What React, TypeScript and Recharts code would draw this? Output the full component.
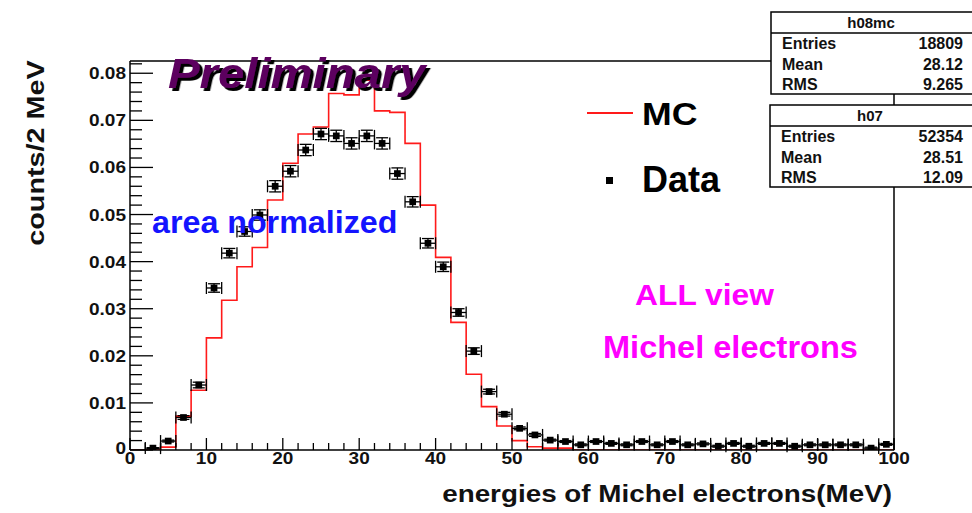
import {
  ComposedChart,
  ErrorBar,
  Line,
  Scatter,
  XAxis,
  YAxis,
  ZAxis,
} from 'recharts';

// data points: bin centres (MeV), normalized counts, y errors
const dataCenters = [
  3, 5, 7, 9, 11, 13, 15, 17, 19, 21, 23, 25, 27, 29, 31, 33, 35, 37, 39, 41,
  43, 45, 47, 49, 51, 53, 55, 57, 59, 61, 63, 65, 67, 69, 71, 73, 75, 77, 79,
  81, 83, 85, 87, 89, 91, 93, 95, 97, 99,
];
const dataValues = [
  0.0004, 0.0019, 0.0069, 0.0138, 0.0344, 0.0418, 0.0464, 0.0499, 0.056,
  0.0592, 0.0637, 0.0671, 0.0667, 0.0651, 0.0667, 0.0651, 0.0587, 0.0527,
  0.0439, 0.0389, 0.0292, 0.021, 0.0124, 0.0076, 0.0046, 0.0032, 0.0021,
  0.0018, 0.0011, 0.0018, 0.0014, 0.0011, 0.0018, 0.0011, 0.0018, 0.0011,
  0.0013, 0.0008, 0.0014, 0.0008, 0.0014, 0.0014, 0.0008, 0.0011, 0.0011,
  0.0011, 0.0011, 0.0004, 0.0012,
];
const dataErrors = [
  0.0001, 0.0002, 0.0004, 0.0006, 0.0009, 0.001, 0.001, 0.0011, 0.0012,
  0.0012, 0.0012, 0.0012, 0.0012, 0.0012, 0.0012, 0.0012, 0.0012, 0.0011,
  0.001, 0.001, 0.0008, 0.0007, 0.0005, 0.0004, 0.0003, 0.0003, 0.0002,
  0.0002, 0.0002, 0.0002, 0.0002, 0.0002, 0.0002, 0.0002, 0.0002, 0.0002,
  0.0002, 0.0002, 0.0002, 0.0002, 0.0002, 0.0002, 0.0002, 0.0002, 0.0002,
  0.0002, 0.0002, 0.0002, 0.0002,
];

// MC histogram: lower bin edges and contents (2 MeV bins)
const mcEdges = [
  0, 2, 4, 6, 8, 10, 12, 14, 16, 18, 20, 22, 24, 26, 28, 30, 32, 34, 36, 38,
  40, 42, 44, 46, 48, 50, 52, 54, 56, 58, 60, 62, 64, 66, 68, 70, 72, 74, 76,
  78, 80, 82, 84, 86, 88, 90, 92, 94, 96, 98, 100,
];
const mcValues = [
  0, 0, 0.0006, 0.0072, 0.0127, 0.0238, 0.0318, 0.0389, 0.043, 0.0531,
  0.0609, 0.0671, 0.0686, 0.0757, 0.0754, 0.0785, 0.072, 0.0717, 0.0651,
  0.052, 0.0409, 0.0271, 0.0161, 0.0092, 0.0051, 0.002, 0.0007, 0.0004,
  0.0004, 0, 0, 0, 0, 0, 0, 0, 0, 0, 0, 0, 0, 0, 0, 0, 0, 0, 0, 0, 0, 0, 0,
];

const xMajorTicks = [0, 10, 20, 30, 40, 50, 60, 70, 80, 90, 100];
const xTickLabels = ['0', '10', '20', '30', '40', '50', '60', '70', '80', '90', '100'];
const yTickLabels = ['0', '0.01', '0.02', '0.03', '0.04', '0.05', '0.06', '0.07', '0.08'];

const xTicks = Array.from({ length: 51 }, (_, i) => i * 2);
const yTicks = Array.from({ length: 42 }, (_, i) => i / 500);

const points = dataCenters.map((x, i) => ({
  x,
  y: dataValues[i],
  xerr: 1,
  yerr: dataErrors[i],
}));
const mcSteps = mcEdges.map((x, i) => ({ x, mc: mcValues[i] }));

const FONT = '"Liberation Sans", Arial, Helvetica, sans-serif';

function XTick(props: any) {
  const { x, y, payload } = props;
  const v = payload.value;
  const k = xMajorTicks.indexOf(v);
  const major = k >= 0;
  return (
    <g>
      <line x1={x} x2={x} y1={y} y2={y - (major ? 12 : 7)} stroke="#000" strokeWidth={1.3} />
      {major && (
        <text
          transform={`translate(${x},${y + 14}) scale(1.12,1)`}
          textAnchor="middle"
          fontFamily={FONT}
          fontWeight="bold"
          fontSize={17}
          fill="#111"
        >
          {xTickLabels[k]}
        </text>
      )}
    </g>
  );
}

function YTick(props: any) {
  const { x, y, payload } = props;
  const i = Math.round(payload.value * 500);
  const major = i % 5 === 0;
  return (
    <g>
      <line x1={x} x2={x + (major ? 23 : 12)} y1={y} y2={y} stroke="#000" strokeWidth={1.3} />
      {major && (
        <text
          transform={`translate(${x - 4},${y + (i === 0 ? 4 : 6)}) scale(1.12,1)`}
          textAnchor="end"
          fontFamily={FONT}
          fontWeight="bold"
          fontSize={17}
          fill="#111"
        >
          {yTickLabels[i / 5]}
        </text>
      )}
    </g>
  );
}

function StatBox({
  top,
  left,
  name,
  rows,
}: {
  top: number;
  left: number;
  name: string;
  rows: [string, string][];
}) {
  return (
    <g fontFamily={FONT} fontWeight="bold" fill="#111">
      <rect x={left} y={top} width={215} height={82} fill="#fff" stroke="#000" strokeWidth={1.5} />
      <line x1={left} x2={left + 215} y1={top + 21} y2={top + 21} stroke="#000" strokeWidth={1.5} />
      <text x={left + 100} y={top + 16} textAnchor="middle" fontSize={15}>
        {name}
      </text>
      {rows.map(([k, v], i) => (
        <g key={k}>
          <text x={left + 11} y={top + 37 + i * 20.5} fontSize={16}>
            {k}
          </text>
          <text x={963} y={top + 37 + i * 20.5} fontSize={16} textAnchor="end">
            {v}
          </text>
        </g>
      ))}
    </g>
  );
}

export default function App() {
  return (
    <div style={{ position: 'absolute', left: 0, top: 0, width: 972, height: 513, background: '#fff' }}>
      <ComposedChart
        width={972}
        height={513}
        margin={{ top: 61, right: 78, bottom: 43, left: 90 }}
      >
        <XAxis
          type="number"
          dataKey="x"
          domain={[0, 100]}
          ticks={xTicks}
          interval={0}
          height={20}
          tickSize={0}
          tickMargin={0}
          tick={<XTick />}
          axisLine={{ stroke: '#000', strokeWidth: 1.5 }}
          allowDataOverflow
        />
        <YAxis
          type="number"
          domain={[0, 0.0826]}
          ticks={yTicks}
          interval={0}
          width={40}
          tickSize={0}
          tickMargin={0}
          tick={<YTick />}
          axisLine={{ stroke: '#000', strokeWidth: 1.5 }}
          allowDataOverflow
        />
        <ZAxis range={[45, 45]} />
        <Line
          data={mcSteps}
          dataKey="mc"
          type="stepAfter"
          stroke="#ff1a1a"
          strokeWidth={1.6}
          dot={false}
          activeDot={false}
          isAnimationActive={false}
        />
        <Scatter data={points} dataKey="y" fill="#000" shape="square" isAnimationActive={false}>
          <ErrorBar dataKey="xerr" direction="x" width={6} stroke="#000" strokeWidth={1.3} />
          <ErrorBar dataKey="yerr" direction="y" width={6} stroke="#000" strokeWidth={1.3} />
        </Scatter>
      </ComposedChart>
      <svg
        width={972}
        height={513}
        style={{ position: 'absolute', left: 0, top: 0, pointerEvents: 'none' }}
      >
        <defs>
          <filter id="prelimShadow" x="-5%" y="-20%" width="115%" height="150%">
            <feDropShadow dx={3} dy={3} stdDeviation={0.4} floodColor="#000" floodOpacity={1} />
          </filter>
        </defs>
        {/* frame top and right */}
        <line x1={130} x2={894} y1={61} y2={61} stroke="#000" strokeWidth={1.5} />
        <line x1={894} x2={894} y1={61} y2={450} stroke="#000" strokeWidth={1.5} />

        <text
          transform="translate(168,88) scale(1.1,1)"
          fontFamily={FONT}
          fontWeight="bold"
          fontStyle="italic"
          fontSize={43}
          fill="#5c005e"
          filter="url(#prelimShadow)"
        >
          Preliminary
        </text>

        <g fontFamily={FONT} fontWeight="bold">
          <text transform="translate(152,233) scale(1.04,1)" fontSize={31} fill="#1414ff">
            area normalized
          </text>
          <line x1={587} x2={633} y1={113} y2={113} stroke="#ff1a1a" strokeWidth={2} />
          <text transform="translate(642,125) scale(1.15,1)" fontSize={31} fill="#000">
            MC
          </text>
          <rect x={606} y={177} width={7} height={7} fill="#000" />
          <text x={642} y={192} fontSize={36} fill="#000">
            Data
          </text>
          <text transform="translate(635,305) scale(1.06,1)" fontSize={30} fill="#ff00ff">
            ALL view
          </text>
          <text transform="translate(603,358) scale(1.05,1)" fontSize={31} fill="#ff00ff">
            Michel electrons
          </text>
          <text
            transform="translate(892,502) scale(1.21,1)"
            textAnchor="end"
            fontSize={23}
            fill="#111"
          >
            energies of Michel electrons(MeV)
          </text>
          <text
            transform="translate(44,153) rotate(-90) scale(1.2,1)"
            textAnchor="middle"
            fontSize={24}
            fill="#111"
          >
            counts/2 MeV
          </text>
        </g>

        <StatBox
          top={12}
          left={771}
          name="h08mc"
          rows={[
            ['Entries', '18809'],
            ['Mean', '28.12'],
            ['RMS', '9.265'],
          ]}
        />
        <StatBox
          top={105}
          left={770}
          name="h07"
          rows={[
            ['Entries', '52354'],
            ['Mean', '28.51'],
            ['RMS', '12.09'],
          ]}
        />
      </svg>
    </div>
  );
}
